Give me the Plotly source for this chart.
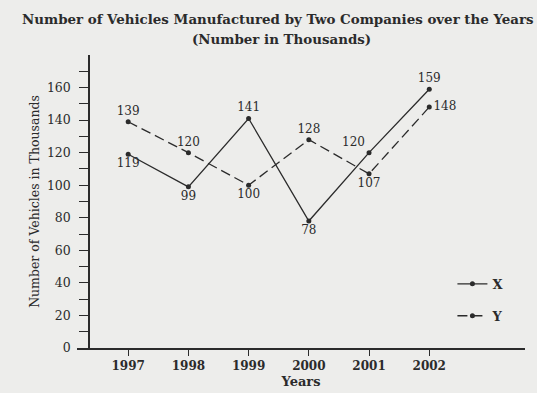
import plotly.graph_objects as go

years = [1997, 1998, 1999, 2000, 2001, 2002]
year_labels = ["1997", "1998", "1999", "2000", "2001", "2002"]
company_x = [119, 99, 141, 78, 120, 159]
company_y = [139, 120, 100, 128, 107, 148]
x_label_pos = ["bottom center", "bottom center", "top center", "bottom center", "top left", "top center"]
y_label_pos = ["top center", "top center", "bottom center", "top center", "bottom center", "middle right"]
y_tick_vals = list(range(0, 180, 10))
y_tick_text = [str(v) if v % 20 == 0 else "" for v in y_tick_vals]
title_line1 = "Number of Vehicles Manufactured by Two Companies over the Years"
title_line2 = "(Number in Thousands)"

INK = "#2b2b2b"
BG = "#ededeb"
SERIF = "DejaVu Serif"

fig = go.Figure()
fig.add_trace(go.Scatter(
    x=years, y=company_x, name="X", legendgroup="x",
    mode="lines+markers+text", text=[str(v) for v in company_x],
    textposition=x_label_pos,
    textfont=dict(family=SERIF, size=12, color=INK),
    line=dict(color=INK, width=1.3), marker=dict(color=INK, size=5),
    cliponaxis=False,
))
fig.add_trace(go.Scatter(
    x=years, y=company_y, name="Y", legendgroup="y",
    mode="lines+markers+text", text=[str(v) for v in company_y],
    textposition=y_label_pos,
    textfont=dict(family=SERIF, size=12, color=INK),
    line=dict(color=INK, width=1.3, dash="10px,5px"), marker=dict(color=INK, size=5),
    cliponaxis=False,
))

x_range = [1996.15, 2003.59]
y_range = [0, 180]
y_pos = 0.0268

fig.update_layout(
    width=537, height=393,
    margin=dict(l=77, r=12, t=55, b=45),
    paper_bgcolor=BG, plot_bgcolor=BG,
    font=dict(family=SERIF, color=INK),
    annotations=[
        dict(text="<b>" + title_line1 + "</b>", xref="paper", yref="paper",
             x=0.449, y=1.122, xanchor="center", yanchor="middle", showarrow=False,
             font=dict(family=SERIF, size=13.4, color=INK)),
        dict(text="<b>" + title_line2 + "</b>", xref="paper", yref="paper",
             x=0.457, y=1.053, xanchor="center", yanchor="middle", showarrow=False,
             font=dict(family=SERIF, size=13.4, color=INK)),
    ],
    xaxis=dict(
        range=x_range, tickmode="array", tickvals=years, ticktext=year_labels,
        showline=True, linecolor=INK, linewidth=1.5, mirror=False,
        ticks="outside", ticklen=6, tickwidth=1.3, tickcolor=INK,
        showgrid=False, zeroline=False,
        tickfont=dict(family=SERIF, size=12, color=INK, weight="bold"),
        ticklabelstandoff=0,
        title=dict(text="<b>Years</b>", font=dict(family=SERIF, size=13, color=INK), standoff=5),
        automargin=False,
    ),
    xaxis2=dict(
        range=x_range, overlaying="x", anchor="y", side="bottom",
        tickmode="array", tickvals=years, showticklabels=False,
        ticks="inside", ticklen=5, tickwidth=1.3, tickcolor=INK,
        showline=False, showgrid=False, zeroline=False,
    ),
    yaxis=dict(
        range=y_range, tickmode="array", tickvals=y_tick_vals, ticktext=y_tick_text,
        anchor="free", position=y_pos,
        showline=True, linecolor=INK, linewidth=1.5,
        ticks="outside", ticklen=9, tickwidth=1.3, tickcolor=INK,
        showgrid=False, zeroline=False,
        tickfont=dict(family=SERIF, size=12.5, color=INK),
        ticklabelstandoff=6,
        title=dict(text="Number of Vehicles in Thousands", font=dict(family=SERIF, size=12.5, color=INK), standoff=4),
        automargin=False,
    ),
    yaxis2=dict(
        range=y_range, overlaying="y", anchor="free", position=y_pos, side="left",
        tickmode="array", tickvals=y_tick_vals, showticklabels=False,
        ticks="inside", ticklen=4, tickwidth=1.3, tickcolor=INK,
        showline=False, showgrid=False, zeroline=False,
    ),
    legend=dict(
        x=0.838, y=0.27, xanchor="left", yanchor="top",
        bgcolor="rgba(0,0,0,0)", tracegroupgap=12,
        font=dict(family=SERIF, size=13, color=INK, weight="bold"),
    ),
    showlegend=True,
)

fig.write_html(
    "out.html",
    config={"displayModeBar": False},
    post_script="document.body.style.margin='0';document.body.style.background='" + BG + "';",
)
